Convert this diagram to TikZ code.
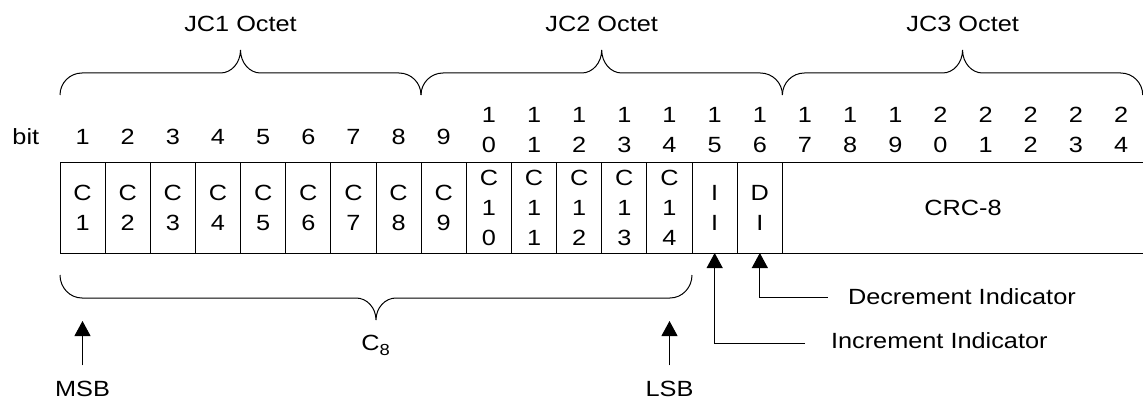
\documentclass[tikz,border=0pt]{standalone}
\usepackage{fontspec}
\setmainfont{Liberation Sans}[FakeStretch=1.15]
\usetikzlibrary{arrows.meta}

% curly brace opening downwards: left x, right x, end y, straight y, tip y
\newcommand{\fieldbrace}[5]{%
  \pgfmathsetmacro{\bm}{(#1+#2)/2}%
  \pgfmathsetmacro{\rr}{0.552*(#4-#3)}%
  \pgfmathsetmacro{\tr}{0.552*(#5-#4)}%
  \draw[brace] (#1,#3) .. controls (#1,{#3+\rr}) and ({#1+22-12.1},#4) .. ({#1+22},#4)
    -- ({\bm-20},#4) .. controls ({\bm-20+11},#4) and (\bm,{#5-\tr}) .. (\bm,#5)
    .. controls (\bm,{#5-\tr}) and ({\bm+20-11},#4) .. ({\bm+20},#4)
    -- ({#2-22},#4) .. controls ({#2-22+12.1},#4) and (#2,{#3+\rr}) .. (#2,#3);}

\begin{document}
\begin{tikzpicture}[x=1pt,y=-1pt,
  every node/.style={font=\fontsize{22}{30}\selectfont, inner sep=0pt, outer sep=0pt},
  cell/.style={draw, line width=1pt, minimum width=45.15pt, minimum height=91pt, align=center},
  bitno/.style={align=center},
  ptr/.style={line width=1pt, -{Triangle[length=15pt,width=16pt]}},
  brace/.style={line width=1pt}]
\useasboundingbox (0,0) rectangle (1143,401);

% bit cells of the frame
\foreach \k/\t in {1/{C\\1},2/{C\\2},3/{C\\3},4/{C\\4},5/{C\\5},6/{C\\6},7/{C\\7},8/{C\\8},9/{C\\9},
                   10/{C\\1\\0},11/{C\\1\\1},12/{C\\1\\2},13/{C\\1\\3},14/{C\\1\\4},
                   15/{I\\I},16/{D\\I}}
  \node[cell] (c\k) at ({60+45.15*(\k-0.5)},207.5) {\t};
\node[cell, minimum width=361.2pt] (crc) at (963,207.5) {CRC-8};

% bit numbering
\node[anchor=base] (bitlbl) at (25.8,145) {bit};
\foreach \k in {1,...,9}
  \node[anchor=base] (b\k) at ({60+45.15*(\k-0.5)},145) {\k};
\foreach \k/\t in {10/{1\\0},11/{1\\1},12/{1\\2},13/{1\\3},14/{1\\4},15/{1\\5},16/{1\\6},
                   17/{1\\7},18/{1\\8},19/{1\\9},20/{2\\0},21/{2\\1},22/{2\\2},23/{2\\3},24/{2\\4}}
  \node[bitno] (b\k) at ({60+45.15*(\k-0.5)},129.6) {\t};

% octet braces
\fieldbrace{60}{421}{95}{73}{50}
\fieldbrace{421}{782.4}{95}{73}{50}
\fieldbrace{782.4}{1142.7}{95}{73}{50}
\node[anchor=base] (jc1) at (240.5,31.5) {JC1 Octet};
\node[anchor=base] (jc2) at (601.7,31.5) {JC2 Octet};
\node[anchor=base] (jc3) at (962.7,31.5) {JC3 Octet};

% C8 brace below the frame
\fieldbrace{60}{692}{275}{298}{320}
\node[anchor=base] (c8) at (375.5,350) {C\raisebox{-5pt}{\fontsize{16}{16}\selectfont 8}};

% MSB / LSB pointers
\node[anchor=base] (msb) at (82.5,396.7) {MSB};
\node[anchor=base] (lsb) at (669.5,396.7) {LSB};
\coordinate (msbtip) at (82.5,321);
\coordinate (lsbtip) at (669.5,321);
\draw[ptr, shorten <=16pt] (msb.north) -- (msbtip);
\draw[ptr, shorten <=16pt] (lsb.north) -- (lsbtip);

% indicator pointers
\node[anchor=base west] (dec) at (848,304) {Decrement Indicator};
\node[anchor=base west] (inc) at (831,348) {Increment Indicator};
\coordinate (decend) at (827.7,297.7);
\coordinate (incend) at (805,343.3);
\draw[ptr] (decend) -| (c16.south);
\draw[ptr] (incend) -| (c15.south);
\end{tikzpicture}
\end{document}
